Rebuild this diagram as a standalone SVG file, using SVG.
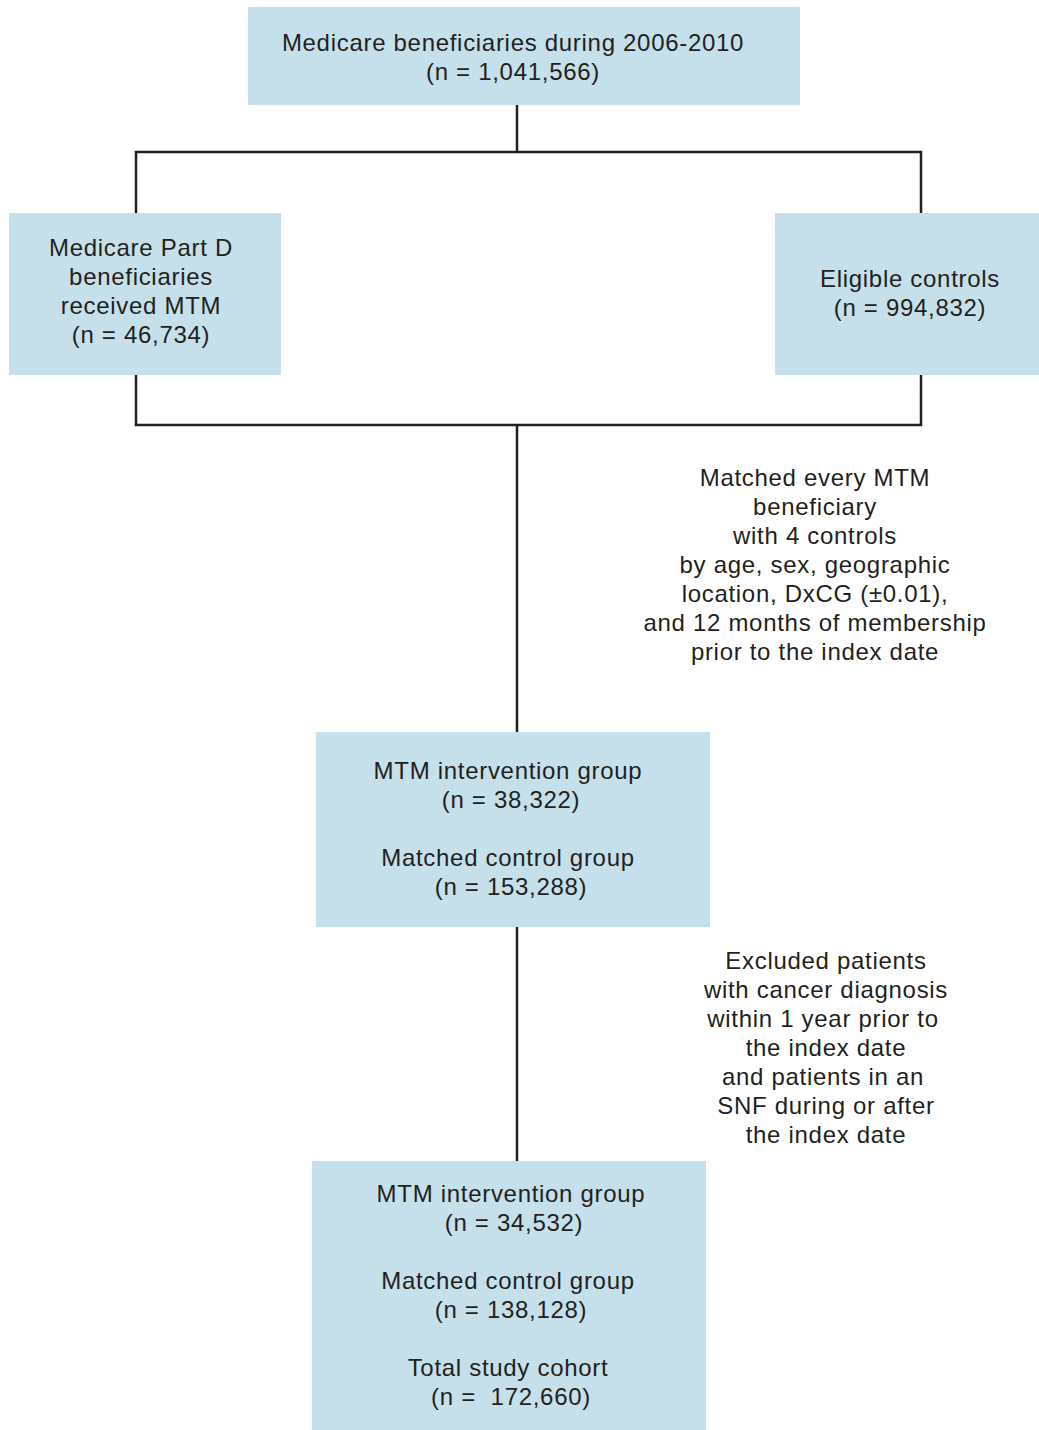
<svg xmlns="http://www.w3.org/2000/svg" width="1039" height="1430" viewBox="0 0 1039 1430">
<style>
.box{fill:#c5e0eb;stroke:none}
.t{font-family:"Liberation Sans",Arial,sans-serif;font-size:24px;letter-spacing:0.7px;fill:#231f20;text-anchor:middle}
.ln{stroke:#231f20;stroke-width:2.5;fill:none}
</style>
<rect width="1039" height="1430" fill="#ffffff"/>
<g id="connectors">
<path class="ln" d="M517,105 V152 M136,213 V152 H921 V213"/>
<path class="ln" d="M136,375 V425 H921 V375 M517,425 V732"/>
<path class="ln" d="M517,927 V1161"/>
</g>
<g id="n-top">
<rect class="box" x="248" y="7" width="552" height="98"/>
<text class="t" x="513" y="51">Medicare beneficiaries during 2006-2010</text>
<text class="t" x="513" y="80">(n = 1,041,566)</text>
</g>
<g id="n-mtm">
<rect class="box" x="9" y="213" width="272" height="162"/>
<text class="t" x="141" y="256">Medicare Part D</text>
<text class="t" x="141" y="285">beneficiaries</text>
<text class="t" x="141" y="314">received MTM</text>
<text class="t" x="141" y="343">(n = 46,734)</text>
</g>
<g id="n-controls">
<rect class="box" x="775" y="213" width="264" height="162"/>
<text class="t" x="910" y="287">Eligible controls</text>
<text class="t" x="910" y="316">(n = 994,832)</text>
</g>
<g id="note-match">
<text class="t" x="815" y="486">Matched every MTM</text>
<text class="t" x="815" y="515">beneficiary</text>
<text class="t" x="815" y="544">with 4 controls</text>
<text class="t" x="815" y="573">by age, sex, geographic</text>
<text class="t" x="815" y="602">location, DxCG (±0.01),</text>
<text class="t" x="815" y="631">and 12 months of membership</text>
<text class="t" x="815" y="660">prior to the index date</text>
</g>
<g id="n-matched">
<rect class="box" x="316" y="732" width="394" height="195"/>
<text class="t" x="508" y="779">MTM intervention group</text>
<text class="t" x="511" y="808">(n = 38,322)</text>
<text class="t" x="508" y="866">Matched control group</text>
<text class="t" x="511" y="895">(n = 153,288)</text>
</g>
<g id="note-excl">
<text class="t" x="826" y="969">Excluded patients</text>
<text class="t" x="826" y="998">with cancer diagnosis</text>
<text class="t" x="823" y="1027">within 1 year prior to</text>
<text class="t" x="826" y="1056">the index date</text>
<text class="t" x="823" y="1085">and patients in an</text>
<text class="t" x="826" y="1114">SNF during or after</text>
<text class="t" x="826" y="1143">the index date</text>
</g>
<g id="n-final">
<rect class="box" x="312" y="1161" width="394" height="269"/>
<text class="t" x="511" y="1202">MTM intervention group</text>
<text class="t" x="514" y="1231">(n = 34,532)</text>
<text class="t" x="508" y="1289">Matched control group</text>
<text class="t" x="511" y="1318">(n = 138,128)</text>
<text class="t" x="508" y="1376">Total study cohort</text>
<text class="t" x="511" y="1405">(n =&#160; 172,660)</text>
</g>
</svg>
